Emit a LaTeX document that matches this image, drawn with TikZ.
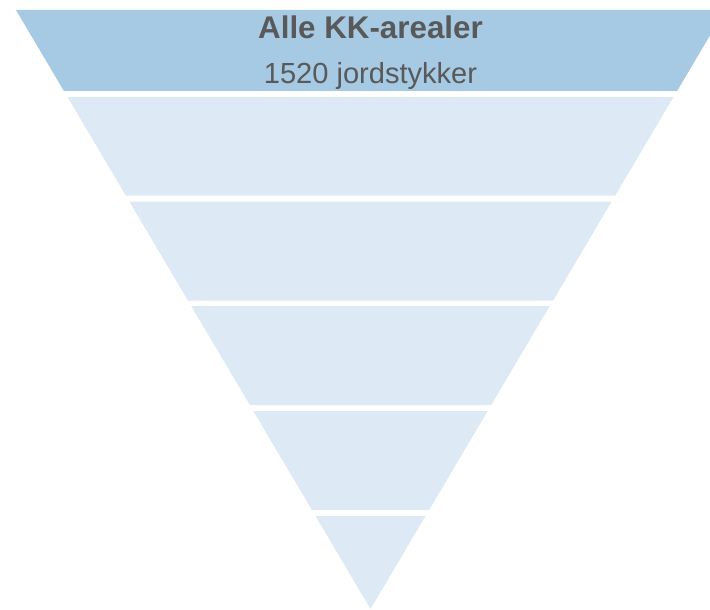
\documentclass[tikz,border=0pt]{standalone}
\usepackage{fontspec}
\setmainfont{Liberation Sans}

\definecolor{funneltop}{RGB}{166,202,227}
\definecolor{funnelband}{RGB}{221,234,245}
\definecolor{labelgray}{RGB}{89,89,89}

\tikzset{every picture/.style={line width=0.75pt}}

\begin{document}
\begin{tikzpicture}[x=0.75pt,y=0.75pt,yscale=-1,xscale=1]
	%set diagram left start at 0, and has height of 610
	\clip (0,0) rectangle (710,610);
	
	%Shape: Trapezoid top [id:top]
	\fill [color=funneltop] (16,10) -- (725,10) -- (677.1,91) -- (63.9,91) -- cycle ;
	%Shape: Trapezoid [id:band2]
	\fill [color=funnelband] (67.5,97) -- (673.5,97) -- (615.2,195.5) -- (125.8,195.5) -- cycle ;
	%Shape: Trapezoid [id:band3]
	\fill [color=funnelband] (129.3,201.5) -- (611.7,201.5) -- (553.1,300.5) -- (187.9,300.5) -- cycle ;
	%Shape: Trapezoid [id:band4]
	\fill [color=funnelband] (191.2,306) -- (549.8,306) -- (491.2,405) -- (249.8,405) -- cycle ;
	%Shape: Trapezoid [id:band5]
	\fill [color=funnelband] (253.3,411) -- (487.7,411) -- (429.1,510) -- (311.9,510) -- cycle ;
	%Shape: Triangle [id:band6]
	\fill [color=funnelband] (315.5,516) -- (425.5,516) -- (370.5,609) -- cycle ;
	
	\draw (370.5,38.3) node (title) [anchor=base,inner sep=0pt,color=labelgray,font=\fontsize{23.5}{28}\selectfont\bfseries] {Alle KK-arealer};
	\draw (370.5,84) node (count) [anchor=base,inner sep=0pt,color=labelgray,font=\fontsize{21.8}{26}\selectfont] {1520 jordstykker};
	
\end{tikzpicture}
\end{document}
